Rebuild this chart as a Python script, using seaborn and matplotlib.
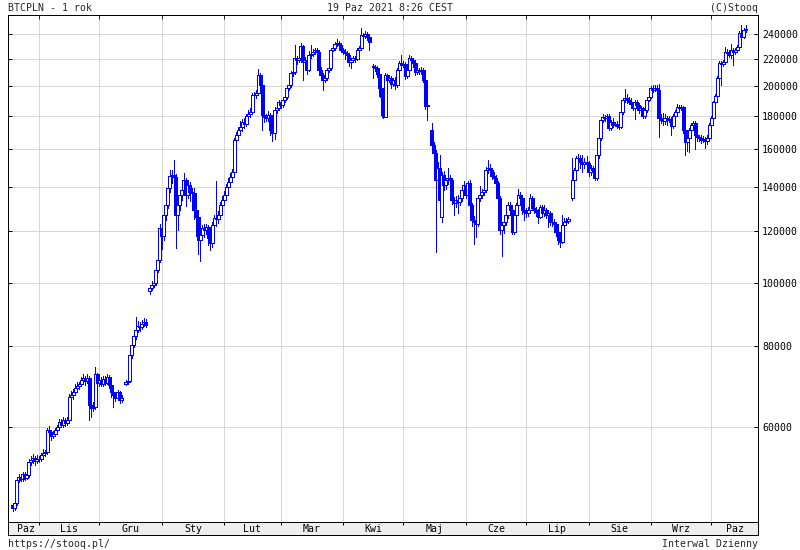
import matplotlib
matplotlib.use("Agg")
import matplotlib.pyplot as plt
import matplotlib.dates as mdates
from matplotlib.ticker import FixedLocator, NullLocator, NullFormatter, FuncFormatter
import seaborn as sns
import numpy as np
import pandas as pd

nan = np.nan

# BTCPLN daily candles from 2020-10-19, prices in thousands of PLN (nan = no quote)
open_k = [
    45.6, 45.1, 45.9, 49.8, 50.3, 50.0, 50.9, 50.2, 50.7, 53.1,
    53.5, 53.9, 53.3, 53.7, 53.7, 54.4, 54.8, 55.0, 59.4, 59.0,
    58.2, 58.6, 59.4, 60.0, 61.2, 60.5, 61.6, 60.9, 61.6, 66.8,
    67.3, 67.9, 68.9, 69.4, 69.9, 70.9, 71.4, 70.7, 71.4, 64.9,
    64.2, 64.5, 72.4, 70.2, 70.9, 69.9, 71.2, 70.2, 71.7, 69.7,
    67.9, 67.3, 66.6, 67.9, 66.1, nan, 70.0, 70.4, 70.7, 77.4,
    80.2, 82.8, 84.6, 85.8, 85.5, 86.4, 87.0, nan, 97.0, 98.1,
    99.1, 99.8, 104.5, 108.2, 121.2, 117.8, 126.9, 131.4, 139.6, 145.6,
    146.1, 145.0, 126.9, 131.4, 136.1, 138.6, 143.5, 136.1, 141.0, 137.6,
    137.1, 129.1, 126.0, 116.2, 118.2, 121.2, 120.3, 121.6, 117.0, 115.0,
    122.5, 125.6, 125.1, 126.9, 131.4, 133.8, 136.1, 140.0, 142.5, 145.1,
    147.7, 165.3, 168.2, 171.2, 173.1, 176.2, 174.9, 179.9, 181.1, 182.4,
    193.7, 193.7, 195.3, 207.9, 200.7, 180.5, 179.3, 178.6, 180.5, 171.2,
    169.4, 183.7, 185.0, 188.9, 187.0, 190.3, 192.3, 198.6, 200.7, 209.4,
    210.1, 220.7, 219.2, 220.7, 230.3, 217.7, 219.2, 211.6, 223.1, 223.9,
    225.5, 227.1, 225.5, 211.6, 207.9, 204.3, 205.8, 211.6, 213.1, 227.1,
    228.7, 231.9, 232.7, 231.1, 227.1, 225.5, 224.7, 223.1, 217.7, 219.2,
    220.7, 220.0, 227.1, 228.7, 239.4, 238.5, 240.3, 237.7, nan, 214.5,
    213.9, 213.1, 208.6, 198.6, 192.3, 179.3, 207.9, 204.3, 205.8, 201.4,
    204.3, 200.7, 211.6, 216.9, 215.4, 216.1, 207.2, 211.6, 220.7, 219.2,
    216.9, 210.1, 211.6, 210.8, 211.6, 204.3, 186.3, nan, 171.2, 162.4,
    158.0, 143.5, 149.7, 126.0, 146.1, 141.0, 143.5, 144.5, 143.5, 133.8,
    132.3, 133.8, 132.8, 134.7, 138.6, 141.0, 136.1, 142.0, 131.4, 124.7,
    123.8, 123.0, 134.7, 136.1, 137.6, 138.6, 148.7, 149.7, 148.7, 145.6,
    144.5, 142.0, 134.7, 120.3, 122.5, 123.8, 126.9, 131.4, 129.1, 119.5,
    126.9, 131.4, 136.1, 134.7, 129.1, 128.2, 127.8, 129.1, 134.7, 130.0,
    129.1, 128.2, 126.0, 130.5, 127.8, 129.1, 126.9, 127.8, 123.8, 123.8,
    123.0, 119.5, 116.2, 115.4, 122.5, 123.8, 124.2, nan, 134.7, 143.5,
    148.7, 155.2, 155.2, 153.0, 151.9, 153.0, 152.4, 147.7, 149.7, 148.7,
    144.5, 156.8, 166.4, 177.4, 179.3, 178.6, 179.9, 172.4, 176.2, 174.3,
    174.9, 173.7, 173.1, 182.4, 190.3, 191.6, 190.3, 188.9, 187.6, 185.0,
    188.9, 187.0, 183.7, 185.0, 179.9, 183.7, 190.3, 192.3, 198.6, 197.2,
    198.6, 197.2, 178.6, 177.4, 176.8, 178.6, 177.4, 178.0, 173.7, 179.9,
    182.4, 185.7, 185.0, 185.7, 171.2, 164.1, 166.4, 171.2, 174.3, 175.6,
    168.2, 166.9, 166.4, 165.3, 165.9, 164.7, 166.4, 174.3, 178.6, 188.9,
    193.0, 205.8, 216.9, 216.1, 217.7, 225.5, 224.7, 223.1, 227.1, 225.5,
    227.1, 229.5, 241.2, 237.7, 243.7,
]
high_k = [
    46.0, 46.4, 50.2, 50.9, 50.8, 51.3, 51.2, 51.1, 53.6, 54.2,
    54.6, 54.3, 54.4, 54.2, 54.9, 55.6, 55.4, 59.9, 60.3, 59.4,
    59.2, 59.8, 60.6, 61.8, 61.9, 62.2, 62.0, 62.2, 67.4, 68.3,
    68.6, 69.8, 70.3, 70.5, 71.6, 72.4, 72.0, 72.3, 71.8, 65.8,
    65.6, 74.2, 72.8, 71.8, 71.6, 72.0, 71.9, 72.4, 72.1, 70.2,
    68.6, 67.9, 68.5, 68.2, 67.2, nan, 71.0, 71.5, 78.2, 81.3,
    83.5, 88.6, 87.2, 86.9, 87.6, 88.3, 87.8, nan, 99.0, 100.6,
    101.2, 105.8, 109.6, 123.0, 124.5, 128.5, 133.5, 141.2, 148.5, 148.5,
    154.1, 146.5, 133.0, 137.8, 140.5, 147.0, 144.8, 143.5, 142.5, 139.5,
    139.5, 131.0, 127.0, 119.5, 122.5, 122.8, 123.0, 122.5, 118.5, 123.8,
    127.0, 143.0, 128.5, 133.0, 135.5, 138.0, 141.5, 144.5, 147.0, 149.0,
    166.5, 170.0, 173.0, 176.5, 178.0, 178.5, 181.5, 183.5, 185.0, 195.0,
    196.0, 197.5, 212.0, 209.5, 202.5, 182.5, 181.5, 183.0, 182.0, 173.0,
    185.5, 188.0, 190.5, 190.0, 192.0, 194.0, 200.0, 203.0, 211.0, 212.5,
    231.0, 222.5, 223.0, 232.5, 231.5, 221.5, 221.0, 226.5, 231.0, 227.5,
    229.0, 228.5, 227.0, 213.5, 209.5, 207.5, 213.0, 215.0, 229.0, 230.5,
    233.5, 236.0, 234.5, 233.0, 229.0, 227.5, 226.5, 225.0, 221.0, 222.0,
    222.5, 228.5, 230.5, 245.0, 241.5, 243.0, 242.0, 238.5, nan, 216.0,
    215.5, 214.5, 209.5, 199.5, 193.5, 209.5, 208.5, 207.5, 207.0, 206.0,
    206.5, 213.0, 218.5, 223.1, 218.5, 217.5, 212.5, 223.1, 222.0, 221.0,
    218.0, 213.5, 213.0, 213.5, 213.0, 205.5, 188.5, nan, 175.5, 164.0,
    159.5, 153.0, 157.0, 147.5, 148.0, 144.5, 149.7, 146.0, 144.5, 135.0,
    135.5, 136.0, 136.0, 139.5, 143.0, 142.0, 143.0, 143.5, 132.5, 126.5,
    125.5, 135.5, 140.5, 139.0, 140.5, 150.5, 154.1, 152.0, 150.0, 147.5,
    146.0, 143.0, 135.5, 124.0, 126.0, 128.5, 133.0, 133.0, 130.5, 128.0,
    132.5, 139.0, 137.5, 135.5, 130.5, 130.0, 130.5, 136.5, 135.5, 131.5,
    130.5, 129.5, 131.5, 131.5, 131.5, 130.0, 129.0, 128.5, 125.5, 125.0,
    124.0, 120.5, 118.0, 126.9, 125.5, 125.5, 126.0, nan, 155.0, 150.0,
    156.5, 157.5, 157.0, 157.0, 155.0, 156.5, 153.5, 151.5, 151.0, 150.5,
    158.5, 167.5, 178.5, 181.0, 180.5, 181.5, 181.5, 177.5, 178.5, 176.0,
    176.5, 175.5, 183.5, 191.0, 198.0, 194.5, 192.5, 191.5, 189.0, 190.5,
    190.5, 188.5, 186.5, 186.0, 185.0, 191.5, 194.0, 200.0, 200.5, 200.5,
    201.0, 201.4, 181.0, 182.0, 181.5, 180.0, 180.0, 179.5, 181.0, 184.0,
    187.5, 187.0, 187.0, 186.5, 172.5, 168.0, 172.5, 175.5, 177.0, 176.5,
    170.0, 168.5, 168.0, 167.5, 167.0, 168.0, 175.5, 180.0, 190.0, 194.5,
    207.0, 218.5, 218.5, 219.5, 229.5, 228.0, 227.0, 232.0, 228.5, 229.0,
    231.0, 242.5, 248.0, 245.0, 248.0,
]
low_k = [
    44.6, 44.9, 45.6, 49.5, 49.6, 49.7, 49.8, 50.0, 50.4, 52.6,
    53.0, 52.6, 52.9, 53.1, 53.3, 54.0, 54.3, 54.7, 58.3, 57.3,
    57.7, 58.1, 59.0, 59.6, 60.0, 60.1, 60.3, 60.5, 61.2, 65.9,
    66.4, 67.2, 68.3, 68.8, 69.3, 70.0, 69.6, 70.1, 61.6, 62.3,
    63.5, 64.1, 69.6, 69.5, 69.3, 69.4, 69.6, 69.8, 68.9, 66.8,
    64.5, 65.8, 66.0, 65.3, 65.5, nan, 69.6, 69.9, 70.3, 76.5,
    79.6, 82.0, 84.0, 84.3, 84.9, 85.8, 85.4, nan, 96.0, 97.5,
    98.5, 99.0, 103.6, 107.5, 112.5, 116.3, 124.8, 130.0, 137.5, 141.8,
    143.0, 112.9, 120.5, 129.0, 134.0, 136.8, 131.0, 134.5, 133.5, 132.0,
    125.0, 118.0, 110.5, 107.9, 116.0, 117.5, 118.5, 114.0, 112.0, 113.5,
    120.5, 122.0, 123.5, 125.5, 129.5, 132.0, 134.5, 138.5, 140.5, 143.5,
    146.0, 163.0, 165.5, 168.5, 170.5, 172.5, 173.5, 177.5, 179.0, 181.0,
    191.0, 192.0, 194.0, 196.5, 171.5, 176.0, 176.5, 176.5, 168.0, 164.5,
    166.0, 182.0, 184.0, 185.0, 185.5, 189.0, 191.0, 197.0, 199.5, 207.0,
    208.5, 216.0, 217.5, 219.0, 204.5, 214.5, 209.0, 210.5, 221.0, 222.0,
    223.5, 223.5, 210.0, 205.0, 197.5, 202.5, 204.0, 210.0, 211.5, 226.0,
    227.0, 230.0, 228.5, 225.5, 223.5, 220.0, 221.5, 214.5, 213.0, 217.5,
    218.0, 219.0, 226.5, 227.5, 236.0, 237.0, 235.5, 227.1, nan, 205.8,
    211.0, 206.5, 193.0, 180.5, 178.6, 179.0, 202.0, 203.0, 198.5, 200.0,
    198.0, 199.5, 210.5, 213.0, 213.5, 205.0, 205.5, 210.0, 216.5, 214.0,
    208.0, 208.5, 208.5, 209.0, 203.0, 184.5, 177.4, nan, 161.0, 155.0,
    111.5, 140.0, 131.0, 124.0, 138.6, 139.0, 141.5, 141.0, 132.0, 126.9,
    130.5, 127.8, 131.5, 133.5, 137.5, 134.5, 135.0, 130.0, 122.0, 114.5,
    117.5, 122.0, 133.5, 134.5, 136.0, 137.5, 147.0, 146.5, 144.0, 142.5,
    140.5, 133.0, 118.5, 109.7, 119.0, 122.5, 125.5, 127.5, 118.6, 118.5,
    125.5, 130.5, 133.0, 127.5, 124.7, 126.0, 126.5, 128.5, 129.0, 128.0,
    126.5, 123.4, 125.5, 126.5, 126.5, 125.5, 121.6, 122.5, 122.0, 119.5,
    118.0, 114.5, 113.5, 115.0, 121.5, 122.5, 123.5, nan, 134.0, 141.5,
    146.5, 152.0, 150.0, 147.5, 150.0, 149.5, 145.5, 146.0, 146.5, 143.5,
    143.5, 155.0, 165.3, 176.0, 177.0, 177.5, 171.0, 171.5, 173.0, 173.5,
    172.5, 172.0, 172.5, 181.0, 189.0, 188.5, 187.5, 186.0, 183.5, 178.0,
    185.5, 182.0, 182.5, 178.5, 178.5, 182.5, 189.5, 191.5, 196.0, 196.5,
    195.5, 167.0, 175.5, 174.0, 175.0, 174.5, 176.0, 168.2, 172.5, 178.5,
    181.0, 183.5, 183.5, 169.5, 156.8, 159.0, 158.5, 169.5, 172.0, 160.0,
    165.0, 164.5, 163.5, 164.0, 160.5, 163.0, 165.5, 173.0, 178.0, 187.5,
    192.0, 205.0, 201.0, 214.5, 216.5, 222.0, 221.5, 221.0, 215.4, 224.0,
    226.0, 228.5, 236.0, 236.5, 242.0,
]
close_k = [
    45.1, 45.9, 49.8, 50.3, 50.0, 50.9, 50.2, 50.7, 53.1, 53.5,
    53.9, 53.3, 53.7, 53.7, 54.4, 54.8, 55.0, 59.4, 59.0, 58.2,
    58.6, 59.4, 60.0, 61.2, 60.5, 61.6, 60.9, 61.6, 66.8, 67.3,
    67.9, 68.9, 69.4, 69.9, 70.9, 71.4, 70.7, 71.4, 64.9, 64.2,
    64.5, 72.4, 70.2, 70.9, 69.9, 71.2, 70.2, 71.7, 69.7, 67.9,
    67.3, 66.6, 67.9, 66.1, 66.6, nan, 70.4, 70.7, 77.4, 80.2,
    82.8, 84.6, 85.8, 85.5, 86.4, 87.0, 86.1, nan, 98.1, 99.1,
    99.8, 104.5, 108.2, 121.2, 117.8, 126.9, 131.4, 139.6, 145.6, 146.1,
    145.0, 126.9, 131.4, 136.1, 138.6, 143.5, 136.1, 141.0, 137.6, 137.1,
    129.1, 126.0, 116.2, 118.2, 121.2, 120.3, 121.6, 117.0, 115.0, 122.5,
    125.6, 125.1, 126.9, 131.4, 133.8, 136.1, 140.0, 142.5, 145.1, 147.7,
    165.3, 168.2, 171.2, 173.1, 176.2, 174.9, 179.9, 181.1, 182.4, 193.7,
    193.7, 195.3, 207.9, 200.7, 180.5, 179.3, 178.6, 180.5, 171.2, 169.4,
    183.7, 185.0, 188.9, 187.0, 190.3, 192.3, 198.6, 200.7, 209.4, 210.1,
    220.7, 219.2, 220.7, 230.3, 217.7, 219.2, 211.6, 223.1, 223.9, 225.5,
    227.1, 225.5, 211.6, 207.9, 204.3, 205.8, 211.6, 213.1, 227.1, 228.7,
    231.9, 232.7, 231.1, 227.1, 225.5, 224.7, 223.1, 217.7, 219.2, 220.7,
    220.0, 227.1, 228.7, 239.4, 238.5, 240.3, 237.7, 233.6, nan, 213.9,
    213.1, 208.6, 198.6, 192.3, 179.3, 207.9, 204.3, 205.8, 201.4, 204.3,
    200.7, 211.6, 216.9, 215.4, 216.1, 207.2, 211.6, 220.7, 219.2, 216.9,
    210.1, 211.6, 210.8, 211.6, 204.3, 186.3, 187.0, nan, 162.4, 158.0,
    143.5, 149.7, 133.8, 146.1, 141.0, 143.5, 144.5, 143.5, 133.8, 132.3,
    133.8, 132.8, 134.7, 138.6, 141.0, 136.1, 142.0, 131.4, 124.7, 123.8,
    123.0, 134.7, 136.1, 137.6, 138.6, 148.7, 149.7, 148.7, 145.6, 144.5,
    142.0, 134.7, 120.3, 122.5, 123.8, 126.9, 131.4, 129.1, 119.5, 126.9,
    131.4, 136.1, 134.7, 129.1, 128.2, 127.8, 129.1, 134.7, 130.0, 129.1,
    128.2, 126.0, 130.5, 127.8, 129.1, 126.9, 127.8, 123.8, 123.8, 123.0,
    119.5, 116.2, 115.4, 122.5, 123.8, 124.2, 125.1, nan, 143.5, 148.7,
    155.2, 155.2, 153.0, 151.9, 153.0, 152.4, 147.7, 149.7, 148.7, 144.5,
    156.8, 166.4, 177.4, 179.3, 178.6, 179.9, 172.4, 176.2, 174.3, 174.9,
    173.7, 173.1, 182.4, 190.3, 191.6, 190.3, 188.9, 187.6, 185.0, 188.9,
    187.0, 183.7, 185.0, 179.9, 183.7, 190.3, 192.3, 198.6, 197.2, 198.6,
    197.2, 178.6, 177.4, 176.8, 178.6, 177.4, 178.0, 173.7, 179.9, 182.4,
    185.7, 185.0, 185.7, 171.2, 164.1, 166.4, 171.2, 174.3, 175.6, 168.2,
    166.9, 166.4, 165.3, 165.9, 164.7, 166.4, 174.3, 178.6, 188.9, 193.0,
    205.8, 216.9, 216.1, 217.7, 225.5, 224.7, 223.1, 227.1, 225.5, 227.1,
    229.5, 241.2, 237.7, 243.7, 244.6,
]

start_date = "2020-10-19"
y_ticks = [60000, 80000, 100000, 120000, 140000, 160000, 180000, 200000, 220000, 240000]
month_labels = ["Paz", "Lis", "Gru", "Sty", "Lut", "Mar", "Kwi", "Maj", "Cze", "Lip", "Sie", "Wrz", "Paz"]

sns.set_style("white")
plt.rcParams["font.family"] = ["DejaVu Sans Mono"]

BLUE = "#0000ff"
GRID = "#d6d6d6"
PX = 0.72  # one pixel in points at 100 dpi
FS = 7.1

df = pd.DataFrame(
    {"open": open_k, "high": high_k, "low": low_k, "close": close_k},
    index=pd.date_range(start_date, periods=len(close_k), freq="D"),
)
df = df.dropna() * 1000

W, H = 800, 550
left, right, top, bottom, band_bottom = 8, 758, 15, 522, 535
fig = plt.figure(figsize=(W / 100, H / 100), dpi=100)
ax = fig.add_axes([left / W, 1 - bottom / H, (right - left) / W, (bottom - top) / H])
band = fig.add_axes([left / W, 1 - band_bottom / H, (right - left) / W, (band_bottom - bottom) / H])

x = mdates.date2num(df.index)
up = (df["close"] >= df["open"]).to_numpy()
body_lo = np.minimum(df["open"], df["close"]).to_numpy()
body_h = np.abs(df["close"] - df["open"]).to_numpy()
faces = np.where(up, "white", BLUE)

# wicks first, then bodies in date order (hollow = up day, filled = down day)
ax.vlines(x, df["low"], df["high"], color=BLUE, lw=PX, zorder=2, antialiased=False)
ax.bar(x, body_h, bottom=body_lo, width=1.5, color=faces, edgecolor=BLUE,
       linewidth=PX, zorder=3, align="center", antialiased=False)

x0 = mdates.date2num(pd.Timestamp(start_date))
xlim = (x0 - 2.4, x0 + 370.2)
ax.set_xlim(xlim)
ax.set_yscale("log")
ax.set_ylim(42970, 256900)
ax.yaxis.set_major_locator(FixedLocator(y_ticks))
ax.yaxis.set_minor_locator(NullLocator())
ax.yaxis.set_major_formatter(FuncFormatter(lambda v, p: f"{int(round(v))}"))
ax.xaxis.set_major_locator(mdates.MonthLocator())
ax.xaxis.set_major_formatter(NullFormatter())
ax.xaxis.set_minor_locator(NullLocator())

ax.grid(True, which="major", color=GRID, lw=1.0 * PX, zorder=0)
ax.set_axisbelow(True)
ax.tick_params(axis="y", which="major", left=True, right=True, labelleft=False,
               labelright=True, direction="in", length=4 * PX, width=PX,
               pad=4 * PX, labelsize=FS, colors="black")
ax.tick_params(axis="x", which="major", top=True, bottom=False, labelbottom=False,
               direction="in", length=4 * PX, width=PX)
for s in ax.spines.values():
    s.set_color("black")
    s.set_linewidth(PX)

# month band under the plot
band.set_facecolor("#eeeeee")
band.set_xlim(xlim)
band.set_ylim(0, 1)
band.set_yticks([])
band.xaxis.set_major_locator(mdates.MonthLocator())
band.xaxis.set_major_formatter(NullFormatter())
band.tick_params(axis="x", top=True, bottom=False, labelbottom=False,
                 direction="in", length=3 * PX, width=PX, colors="black")
for s in band.spines.values():
    s.set_color("black")
    s.set_linewidth(PX)

month_starts = mdates.date2num(pd.date_range("2020-11-01", "2021-10-01", freq="MS"))
edges = [x0] + list(month_starts) + [xlim[1]]
for i, name in enumerate(month_labels):
    band.text((edges[i] + edges[i + 1]) / 2, 0.45, name, ha="center", va="center",
              fontsize=FS, color="black")

fig.text(left / W, 1 - 8 / H, "BTCPLN - 1 rok", ha="left", va="center", fontsize=FS)
fig.text(390 / W, 1 - 8 / H, "19 Paz 2021 8:26 CEST", ha="center", va="center", fontsize=FS)
fig.text(right / W, 1 - 8 / H, "(C)Stooq", ha="right", va="center", fontsize=FS)
fig.text(left / W, 1 - 544 / H, "https://stooq.pl/", ha="left", va="center", fontsize=FS)
fig.text(right / W, 1 - 544 / H, "Interwal Dzienny", ha="right", va="center", fontsize=FS)

fig.savefig("out.png", dpi=100, facecolor="white")
